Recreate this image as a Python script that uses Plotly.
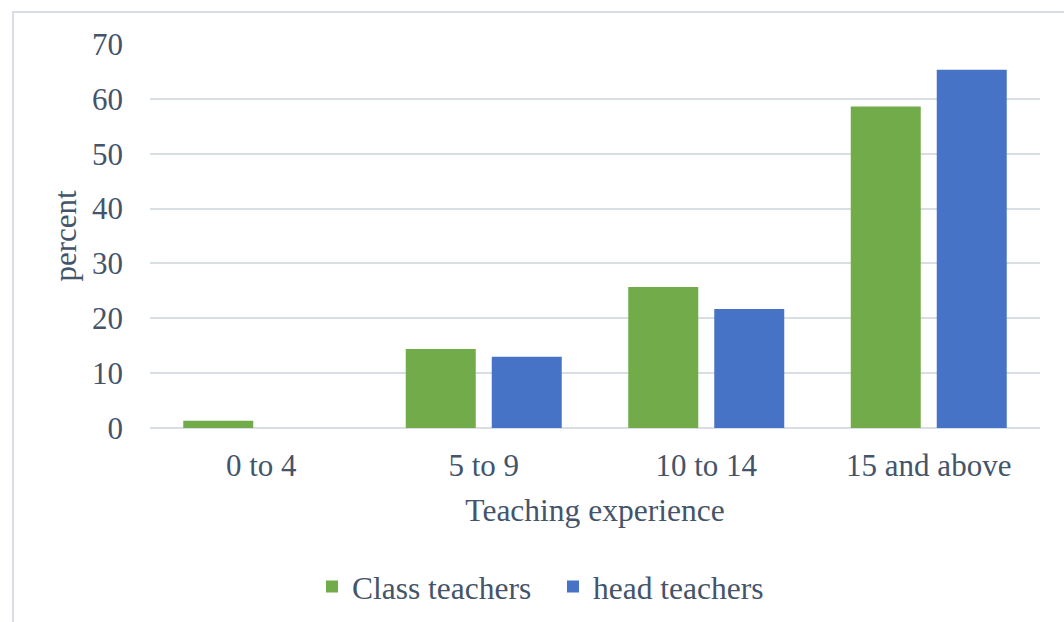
import plotly.graph_objects as go

categories = ["0 to 4", "5 to 9", "10 to 14", "15 and above"]
class_teachers = [1.3, 14.4, 25.7, 58.6]
head_teachers = [0, 13.0, 21.7, 65.3]
y_ticks = [0, 10, 20, 30, 40, 50, 60, 70]

TEXT = "#44546A"
FONT = "Liberation Serif, Times New Roman, serif"
GRID = "#D9DDE4"

fig = go.Figure()
fig.add_trace(go.Bar(x=categories, y=class_teachers, name="Class teachers",
                     marker=dict(color="#72AC4A", line=dict(width=0))))
fig.add_trace(go.Bar(x=categories, y=head_teachers, name="head teachers",
                     marker=dict(color="#4673C6", line=dict(width=0))))

fig.update_layout(
    width=1064, height=622,
    margin=dict(l=150, r=24, t=44, b=194, autoexpand=False),
    paper_bgcolor="white", plot_bgcolor="white",
    font=dict(family=FONT, size=31, color=TEXT),
    barmode="group", bargap=0.227, bargroupgap=0.186,
    showlegend=True,
    legend=dict(orientation="h", x=0.182, xanchor="left", y=-0.413, yanchor="middle",
                font=dict(family=FONT, size=31.5, color=TEXT), itemwidth=30,
                entrywidth=196, entrywidthmode="pixels",
                bgcolor="rgba(0,0,0,0)"),
    xaxis=dict(
        showgrid=False, showline=False, zeroline=False, ticks="",
        ticklabelstandoff=16,
        title=dict(text="Teaching experience", standoff=16,
                   font=dict(family=FONT, size=31.5, color=TEXT)),
        automargin=False,
    ),
    yaxis=dict(
        range=[0, 70], tickvals=y_ticks, showgrid=True, gridcolor=GRID, gridwidth=1.5,
        zeroline=True, zerolinecolor=GRID, zerolinewidth=2,
        showline=False, ticks="", ticklabelstandoff=26,
        title=dict(text="percent", standoff=6,
                   font=dict(family=FONT, size=31, color=TEXT)),
        automargin=False,
    ),
    shapes=[dict(type="rect", xref="paper", yref="paper",
                 x0=-0.1539, x1=1.2, y0=-0.7, y1=1.0833,
                 line=dict(color="#DADDE3", width=2), fillcolor="rgba(0,0,0,0)",
                 layer="below")],
)

fig.write_html("out.html", config={"displayModeBar": False},
               post_script="document.body.style.margin='0px';")
